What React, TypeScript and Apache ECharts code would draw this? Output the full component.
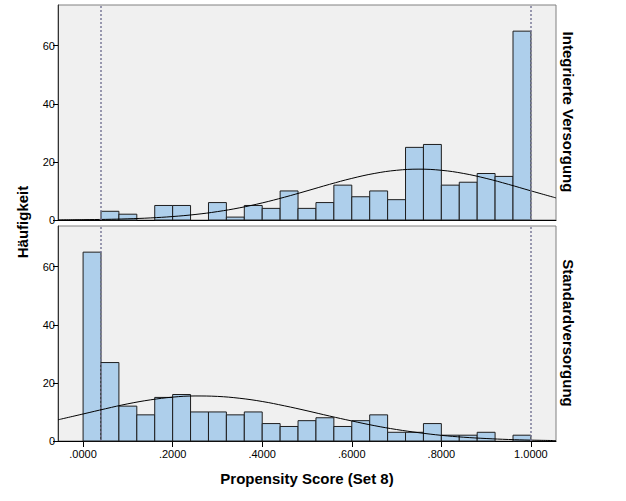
import React, { useEffect, useRef } from "react";
import * as echarts from "echarts";

// Histogram bin edges (Propensity Score)
const binEdges = [0, 0.04, 0.08, 0.12, 0.16, 0.2, 0.24, 0.28, 0.32, 0.36, 0.4, 0.44, 0.48, 0.52, 0.56, 0.6, 0.64, 0.68, 0.72, 0.76, 0.8, 0.84, 0.88, 0.92, 0.96, 1.0];

// Counts per bin
const countsIntegrated = [0, 3, 2, 0, 5, 5, 0, 6, 1, 5, 4, 10, 4, 6, 12, 8, 10, 7, 25, 26, 12, 13, 16, 15, 65];
const countsStandard = [65, 27, 12, 9, 15, 16, 10, 10, 9, 10, 6, 5, 7, 8, 5, 7, 9, 3, 3, 6, 2, 2, 3, 0, 2];

// Normal curve
const curveX = [-0.056, 0, 0.05, 0.1, 0.15, 0.2, 0.25, 0.3, 0.35, 0.4, 0.45, 0.5, 0.55, 0.6, 0.65, 0.7, 0.75, 0.8, 0.85, 0.9, 0.95, 1.0, 1.056];
const curveIntegrated = [0.05, 0.12, 0.22, 0.41, 0.71, 1.19, 1.89, 2.89, 4.21, 5.88, 7.86, 10.03, 12.26, 14.32, 16.01, 17.11, 17.5, 17.11, 16.01, 14.32, 12.26, 10.03, 7.6];
const curveStandard = [7.3, 9.3, 11.1, 12.8, 14.15, 15.1, 15.5, 15.35, 14.7, 13.6, 12.1, 10.4, 8.6, 6.9, 5.3, 3.95, 2.85, 1.95, 1.3, 0.85, 0.52, 0.3, 0.15];

// Reference lines (common support limits)
const refLines = [0.037, 0.999];

const xTicks = [0, 0.2, 0.4, 0.6, 0.8, 1.0];
const yTicks = [0, 20, 40, 60];

const panelLabels = ["Integrierte Versorgung", "Standardversorgung"];

const FONT = "'Liberation Sans', Arial, sans-serif";
const BAR_FILL = "#aecfeb";
const BAR_STROKE = "#1e1e1e";

function fmtX(v: number) {
  if (Math.abs(v - 1) < 1e-9) return "1.0000";
  return v.toFixed(4).replace(/^0/, "");
}

export default function App() {
  const ref = useRef<HTMLDivElement>(null);

  useEffect(() => {
    if (!ref.current) return;
    const chart = echarts.init(ref.current, null, { renderer: "svg" });

    const grids = [
      { left: 58, top: 5, width: 498, height: 215 },
      { left: 58, top: 226, width: 498, height: 215 },
    ];

    const xAxes = grids.map((_, i) => ({
      type: "value",
      gridIndex: i,
      min: -0.056,
      max: 1.056,
      splitLine: { show: false },
      axisLine: { show: true, onZero: false, lineStyle: { color: "#000", width: 1 } },
      axisTick: {
        show: i === 1,
        length: 6,
        customValues: xTicks,
        lineStyle: { color: "#000" },
      },
      axisLabel: {
        show: i === 1,
        customValues: xTicks,
        formatter: fmtX,
        color: "#000",
        fontFamily: FONT,
        fontSize: 11,
        margin: 7,
      },
    }));

    const yAxes = grids.map((_, i) => ({
      type: "value",
      gridIndex: i,
      min: 0,
      max: 74,
      splitLine: { show: false },
      axisLine: { show: true, onZero: false, lineStyle: { color: "#333", width: 1 } },
      axisTick: {
        show: true,
        length: 5,
        customValues: yTicks,
        lineStyle: { color: "#000" },
      },
      axisLabel: {
        customValues: yTicks,
        color: "#000",
        fontFamily: FONT,
        fontSize: 11,
        margin: 3,
      },
    }));

    const binData = (counts: number[]) =>
      counts.map((c, k) => [binEdges[k], binEdges[k + 1], c]);

    const renderBar = (params: any, api: any) => {
      const c = api.value(2);
      if (!c) return null;
      const p0 = api.coord([api.value(0), c]);
      const p1 = api.coord([api.value(1), 0]);
      return {
        type: "rect",
        shape: { x: p0[0], y: p0[1], width: p1[0] - p0[0], height: p1[1] - p0[1] },
        style: { fill: BAR_FILL, stroke: BAR_STROKE, lineWidth: 1 },
      };
    };

    const series: any[] = [];
    [countsIntegrated, countsStandard].forEach((counts, i) => {
      series.push({
        type: "custom",
        xAxisIndex: i,
        yAxisIndex: i,
        renderItem: renderBar,
        encode: { x: [0, 1], y: 2 },
        data: binData(counts),
        z: 2,
      });
    });
    [curveIntegrated, curveStandard].forEach((vals, i) => {
      series.push({
        type: "line",
        xAxisIndex: i,
        yAxisIndex: i,
        data: curveX.map((x, k) => [x, vals[k]]),
        smooth: 0.4,
        showSymbol: false,
        symbol: "none",
        lineStyle: { color: "#000", width: 1 },
        z: 3,
        markLine: {
          silent: true,
          symbol: "none",
          label: { show: false },
          lineStyle: { color: "#7a7a98", type: [2, 2], width: 1.5 },
          data: refLines.map((v) => ({ xAxis: v })),
        },
      });
    });

    const titleStyle = {
      fontFamily: FONT,
      fontSize: 15,
      fontWeight: "bold",
      fill: "#000",
      align: "center",
      verticalAlign: "middle",
    };

    chart.setOption({
      animation: false,
      backgroundColor: "#fff",
      grid: grids.map((g) => ({
        ...g,
        show: true,
        backgroundColor: "#f0f0f0",
        borderColor: "#808080",
        borderWidth: 1,
      })),
      xAxis: xAxes,
      yAxis: yAxes,
      series,
      graphic: [
        {
          type: "text",
          x: 22,
          y: 222,
          rotation: Math.PI / 2,
          style: { ...titleStyle, text: "Häufigkeit" },
        },
        {
          type: "text",
          x: 568,
          y: 112,
          rotation: -Math.PI / 2,
          style: { ...titleStyle, text: panelLabels[0] },
        },
        {
          type: "text",
          x: 568,
          y: 333,
          rotation: -Math.PI / 2,
          style: { ...titleStyle, text: panelLabels[1] },
        },
        {
          type: "text",
          x: 307,
          y: 478,
          style: { ...titleStyle, text: "Propensity Score (Set 8)" },
        },
      ],
    });

    return () => chart.dispose();
  }, []);

  return (
    <div
      ref={ref}
      style={{ position: "fixed", left: 0, top: 0, width: 626, height: 501 }}
    />
  );
}
